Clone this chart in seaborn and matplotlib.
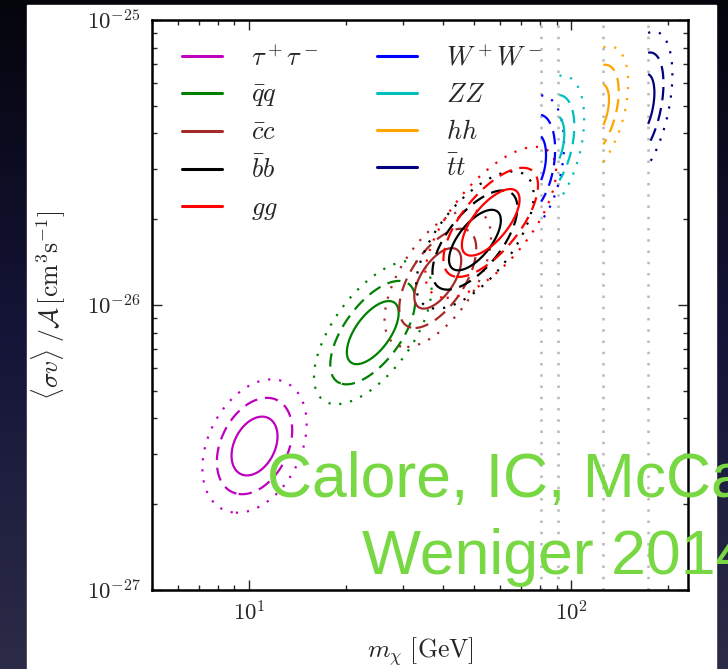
import numpy as np
import matplotlib
matplotlib.use('Agg')
import matplotlib.pyplot as plt
from matplotlib.lines import Line2D
from matplotlib.patches import Rectangle
from matplotlib.ticker import FixedLocator, LogLocator, FuncFormatter, NullFormatter
import seaborn as sns

# annihilation channels and fit results
labels = [r'$\tau^+\tau^-$', r'$\bar{q}q$', r'$\bar{c}c$', r'$\bar{b}b$', r'$gg$',
          r'$W^+W^-$', r'$ZZ$', r'$hh$', r'$\bar{t}t$']
colors = ['m', 'g', 'brown', 'k', 'r', 'b', 'c', 'orange', 'navy']
# best-fit DM mass [GeV] and <sigma v> [1e-26 cm^3/s]
m_fit = [10.4, 24.2, 38.5, 50.2, 56.2, 75.4, 85.0, 117.4, 163.5]
sv_fit = [0.32, 0.80, 1.24, 1.69, 1.95, 3.12, 3.61, 4.72, 4.95]
# widths in dex and correlation of log(m), log(sv)
sig_logm = [0.047, 0.053, 0.048, 0.053, 0.059, 0.029, 0.032, 0.031, 0.029]
sig_logsv = [0.068, 0.073, 0.070, 0.070, 0.077, 0.070, 0.072, 0.068, 0.077]
rho = [0.33, 0.62, 0.60, 0.65, 0.68, 0.30, 0.39, 0.45, 0.43]
# kinematic thresholds (0 = none)
m_thresh = [0, 0, 0, 0, 0, 80.4, 91.2, 125.0, 173.0]
dchi2_levels = [2.30, 6.18, 11.83]   # 1, 2, 3 sigma for 2 parameters
x_ticks = [10, 100]
y_ticks = [1e-27, 1e-26, 1e-25]

sns.set_style('ticks')
plt.rcParams['font.family'] = ['DejaVu Sans']
plt.rcParams['mathtext.fontset'] = 'cm'

fig = plt.figure(figsize=(7.28, 6.69), dpi=100)

# slide background
bg = fig.add_axes([0, 0, 1, 1], zorder=-10)
t = np.linspace(0, 1, 256)
stops = np.array([[0.02, 0.02, 0.05], [0.08, 0.08, 0.22], [0.17, 0.17, 0.28]])
grad = np.stack([np.interp(t, [0, 0.5, 1], stops[:, k]) for k in range(3)], axis=-1)
bg.imshow(grad[:, None, :], aspect='auto', extent=[0, 1, 0, 1])
bg.add_patch(Rectangle((27 / 728, 0), (716 - 27) / 728, 664 / 669, color='white'))
bg.set_xlim(0, 1)
bg.set_ylim(0, 1)
bg.axis('off')

ax = fig.add_axes([152 / 728, 79 / 669, 536 / 728, 570 / 669])
ax.set_facecolor('white')

LM, LS = np.meshgrid(np.linspace(0.68, 2.38, 600), np.linspace(-27.05, -24.95, 600))
styles = ['solid', (0, (6, 3.5)), (0, (1, 4))]
for i in range(len(labels)):
    u = (LM - np.log10(m_fit[i])) / sig_logm[i]
    v = (LS - np.log10(sv_fit[i] * 1e-26)) / sig_logsv[i]
    chi2 = (u**2 - 2 * rho[i] * u * v + v**2) / (1 - rho[i]**2)
    if m_thresh[i] > 0:
        chi2 = np.ma.masked_where(LM < np.log10(m_thresh[i]), chi2)
    ax.contour(10**LM, 10**LS, chi2, levels=dchi2_levels, colors=colors[i],
               linestyles=styles, linewidths=1.6)

for m in m_thresh[5:]:
    ax.axvline(m, color='#b8b8b8', ls=(0, (1, 3.5)), lw=1.8, zorder=0.5)

ax.set_xscale('log')
ax.set_yscale('log')
ax.set_xlim(5, 230)
ax.set_ylim(1e-27, 1e-25)
fmt = FuncFormatter(lambda x, pos: r'$10^{%d}$' % round(np.log10(x)))
ax.xaxis.set_major_locator(FixedLocator(x_ticks))
ax.yaxis.set_major_locator(FixedLocator(y_ticks))
for axis in (ax.xaxis, ax.yaxis):
    axis.set_minor_locator(LogLocator(base=10, subs=np.arange(2, 10)))
    axis.set_major_formatter(fmt)
    axis.set_minor_formatter(NullFormatter())
ax.tick_params(which='both', direction='in', top=True, right=True, labelsize=16.5)
ax.tick_params(which='major', length=7.2, width=1.0, pad=8)
ax.tick_params(which='minor', length=3.6, width=1.0)
for s in ax.spines.values():
    s.set_linewidth(1.8)
    s.set_color('black')

ax.set_xlabel(r'$m_\chi\ [\mathrm{GeV}]$', fontsize=18.5, labelpad=7)
ax.set_ylabel(r'$\langle\sigma v\rangle\ /\mathcal{A}\,[\mathrm{cm}^3\mathrm{s}^{-1}]$',
              fontsize=18.5, labelpad=14)

handles = [Line2D([], [], color=c, lw=2.2) for c in colors]
ax.legend(handles, labels, loc='upper left', bbox_to_anchor=(0.056, 0.955), ncol=2,
          frameon=False, fontsize=19, handlelength=1.5, handletextpad=1.1,
          columnspacing=2.25, labelspacing=0.41, borderpad=0, borderaxespad=0)

green = '#78d843'
fig.text(267 / 728, 1 - 497 / 669, 'Calore, IC, McCabe,', color=green, fontsize=45,
         family='Liberation Sans', va='baseline', ha='left', zorder=10)
fig.text(362 / 728, 1 - 574 / 669, 'Weniger 2014', color=green, fontsize=45,
         family='Liberation Sans', va='baseline', ha='left', zorder=10)

fig.savefig('out.png', dpi=100)
